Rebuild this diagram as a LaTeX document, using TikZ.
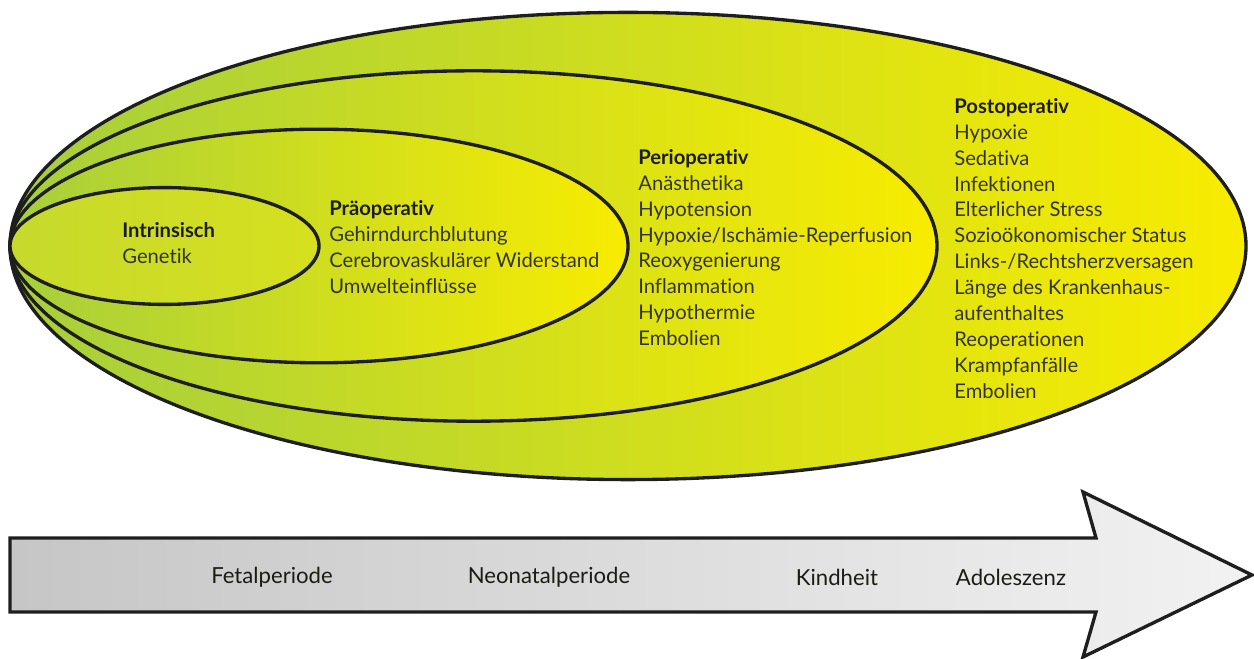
\documentclass[tikz,border=0pt]{standalone}
\usepackage{fontspec}
\setmainfont{Lato}[Ligatures=NoCommon]
\definecolor{zoneGreen}{HTML}{A6CF3C}
\definecolor{zoneYellow}{HTML}{F8EC00}
\definecolor{coreLeft}{HTML}{C6D92C}
\definecolor{coreRight}{HTML}{D6E01E}
\definecolor{lineDark}{HTML}{1E1E1E}
\definecolor{arrowGray}{HTML}{C6C6C6}
\definecolor{arrowLight}{HTML}{F2F2F2}
\definecolor{txtHead}{HTML}{1C1C14}
\definecolor{txtBody}{HTML}{34342A}

\begin{document}
\begin{tikzpicture}[x=0.02cm, y=0.02cm,
  zone/.style={left color=zoneGreen, right color=zoneYellow, draw=lineDark, line width=1.9pt},
  factors/.style={anchor=north west, inner sep=0pt, align=left, text=txtBody,
    font=\fontsize{11.5}{14.75}\selectfont},
  period/.style={inner sep=0pt, text=txtHead, font=\fontsize{12.6}{15}\selectfont}]
  \useasboundingbox (0,0) rectangle (1254,659);

  % Nested zones, all touching at the left end
  \foreach \k in {4,3,2}
    \shade[zone] ({10+154.5*\k},413) ellipse [x radius={154.5*\k}, y radius={58.4*\k}];
  \shade[zone, left color=coreLeft, right color=coreRight] (164.5,413) ellipse [x radius=154.5, y radius=58.4];

  % Factors of each zone
  \node[factors] (intrinsic) at (122,437)
    {\textbf{\color{txtHead}Intrinsisch}\\Genetik};
  \node[factors] (preop) at (329,459)
    {\textbf{\color{txtHead}Präoperativ}\\Gehirndurchblutung\\Cerebrovaskulärer Widerstand\\Umwelteinflüsse};
  \node[factors] (periop) at (638,510)
    {\textbf{\color{txtHead}Perioperativ}\\Anästhetika\\Hypotension\\Hypoxie/Ischämie-Reperfusion\\Reoxygenierung\\Inflammation\\Hypothermie\\Embolien};
  \node[factors] (postop) at (954,561)
    {\textbf{\color{txtHead}Postoperativ}\\Hypoxie\\Sedativa\\Infektionen\\Elterlicher Stress\\Sozioökonomischer Status\\Links-/Rechtsherzversagen\\Länge des Krankenhaus-\\aufenthaltes\\Reoperationen\\Krampfanfälle\\Embolien};

  % Time arrow
  \shade[left color=arrowGray, right color=arrowLight, draw=lineDark, line width=1.9pt]
    (10,121) -- (1096,121) -- (1083,167) -- (1252,84) -- (1083,2) -- (1096,47) -- (10,47) -- cycle;

  % Periods along the arrow
  \node[period] (fetal) at (272,82) {Fetalperiode};
  \node[period] (neonatal) at (549,82) {Neonatalperiode};
  \node[period] (child) at (837,82) {Kindheit};
  \node[period] (adolescence) at (1011,82) {Adoleszenz};

\end{tikzpicture}
\end{document}
